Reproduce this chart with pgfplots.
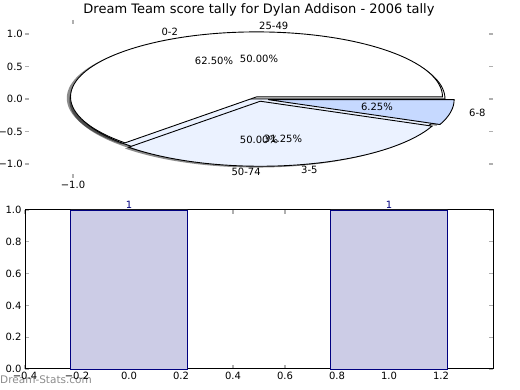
\documentclass[border=0pt]{standalone}
\usepackage{pgfplots}
\pgfplotsset{compat=1.18}
\usepackage{fontspec}
\setmainfont{DejaVu Sans}
\definecolor{cthree}{RGB}{235,242,255}
\definecolor{csix}{RGB}{198,217,255}
\definecolor{barfill}{RGB}{204,204,230}
\definecolor{baredge}{RGB}{0,0,128}
\definecolor{tickgray}{RGB}{175,175,175}
\def\RX{186bp}
\def\RY{65bp}
\begin{document}
\begin{tikzpicture}
\useasboundingbox (0bp,0bp) rectangle (520bp,390bp);
% ---------- top: pie charts ----------
\begin{axis}[at={(25bp,212bp)}, anchor=south west, scale only axis,
  width=468bp, height=158bp,
  xmin=-1.258, xmax=1.258, ymin=-1.215, ymax=1.215,
  axis line style={draw=none}, clip=false,
  xtick={-1}, xticklabels={−1.0},
  ytick={-1,-0.5,0,0.5,1}, yticklabels={−1.0,−0.5,0.0,0.5,1.0},
  tick align=inside, major tick length=4bp,
  tick style={tickgray, line width=1.2bp},
  ticklabel style={font=\fontsize{10bp}{12bp}\selectfont},
  yticklabel style={inner sep=2bp},
]
% shadows
\begin{scope}[fill=black, opacity=0.45]
\fill (axis cs:-0.02,-0.02) -- (axis cs:0.98,-0.02) arc[start angle=0,end angle=360,x radius=\RX,y radius=\RY] -- cycle;
\fill (axis cs:-0.0334,0.0123) -- (axis cs:0.9666,0.0123) arc[start angle=0,end angle=225,x radius=\RX,y radius=\RY] -- cycle;
\fill (axis cs:-0.0132,-0.0543) -- (axis cs:-0.7203,-0.7614) arc[start angle=225,end angle=337.5,x radius=\RX,y radius=\RY] -- cycle;
\fill (axis cs:0.0290,-0.0298) -- (axis cs:0.9529,-0.4125) arc[start angle=337.5,end angle=360,x radius=\RX,y radius=\RY] -- cycle;
\end{scope}
% second pie: 25-49 (50%), 50-74 (50%)
\filldraw[fill=white, draw=black, line width=0.9bp] (axis cs:0,0) -- (axis cs:1,0) arc[start angle=0,end angle=180,x radius=\RX,y radius=\RY] -- cycle;
\filldraw[fill=cthree, draw=black, line width=0.9bp] (axis cs:0,0) -- (axis cs:-1,0) arc[start angle=180,end angle=360,x radius=\RX,y radius=\RY] -- cycle;
% first pie: 0-2 (62.5%), 3-5 (31.25%), 6-8 (6.25%), exploded
\filldraw[fill=white, draw=black, line width=0.9bp] (axis cs:-0.0134,0.0323) -- (axis cs:0.9866,0.0323) arc[start angle=0,end angle=225,x radius=\RX,y radius=\RY] -- cycle;
\filldraw[fill=cthree, draw=black, line width=0.9bp] (axis cs:0.0068,-0.0343) -- (axis cs:-0.7003,-0.7414) arc[start angle=225,end angle=337.5,x radius=\RX,y radius=\RY] -- cycle;
\filldraw[fill=csix, draw=black, line width=0.9bp] (axis cs:0.0490,-0.0098) -- (axis cs:0.9729,-0.3925) arc[start angle=337.5,end angle=360,x radius=\RX,y radius=\RY] -- cycle;
% labels
\begin{scope}[font=\fontsize{10bp}{12bp}\selectfont, inner sep=0pt]
\node[anchor=east] at (axis cs:-0.435,1.03) {0-2};
\node[anchor=west] at (axis cs:0,1.12) {25-49};
\node at (axis cs:-0.242,0.585) {62.50\%};
\node at (axis cs:0,0.615) {50.00\%};
\node at (axis cs:0.634,-0.123) {6.25\%};
\node[anchor=west] at (axis cs:1.129,-0.215) {6-8};
\node at (axis cs:0,-0.63) {50.00\%};
\node at (axis cs:0.129,-0.615) {31.25\%};
\node[anchor=east] at (axis cs:0.01,-1.12) {50-74};
\node[anchor=west] at (axis cs:0.226,-1.09) {3-5};
\end{scope}
\end{axis}
% ---------- bottom: bar chart ----------
\begin{axis}[at={(25bp,21bp)}, anchor=south west, scale only axis,
  width=468bp, height=159bp,
  xmin=-0.4, xmax=1.4, ymin=0, ymax=1, clip=false,
  xtick={-0.4,-0.2,0,0.2,0.4,0.6,0.8,1.0,1.2},
  xticklabels={−0.4,−0.2,0.0,0.2,0.4,0.6,0.8,1.0,1.2},
  ytick={0,0.2,0.4,0.6,0.8,1},
  yticklabels={0.0,0.2,0.4,0.6,0.8,1.0},
  axis line style={black, line width=1bp},
  tick align=inside, major tick length=4bp,
  tick style={tickgray, line width=1.2bp},
  ticklabel style={font=\fontsize{10bp}{12bp}\selectfont},
  /pgf/number format/assume math mode=true,
]
\addplot[ybar, bar width=0.45, fill=barfill, draw=baredge, line width=0.8bp,
  nodes near coords,
  nodes near coords style={font=\fontsize{10bp}{12bp}\selectfont, text=baredge, anchor=base, inner sep=0pt, yshift=1bp}]
  coordinates {(0,1) (1,1)};
\end{axis}
\node[font=\fontsize{13bp}{15bp}\selectfont, anchor=base] at (259bp,376bp) {Dream Team score tally for Dylan Addison - 2006 tally};
\node[anchor=base west, inner sep=0pt, text=black, opacity=0.45, font=\fontsize{10.5bp}{12bp}\selectfont] at (0bp,7bp) {Dream-Stats.com};
\end{tikzpicture}
\end{document}
